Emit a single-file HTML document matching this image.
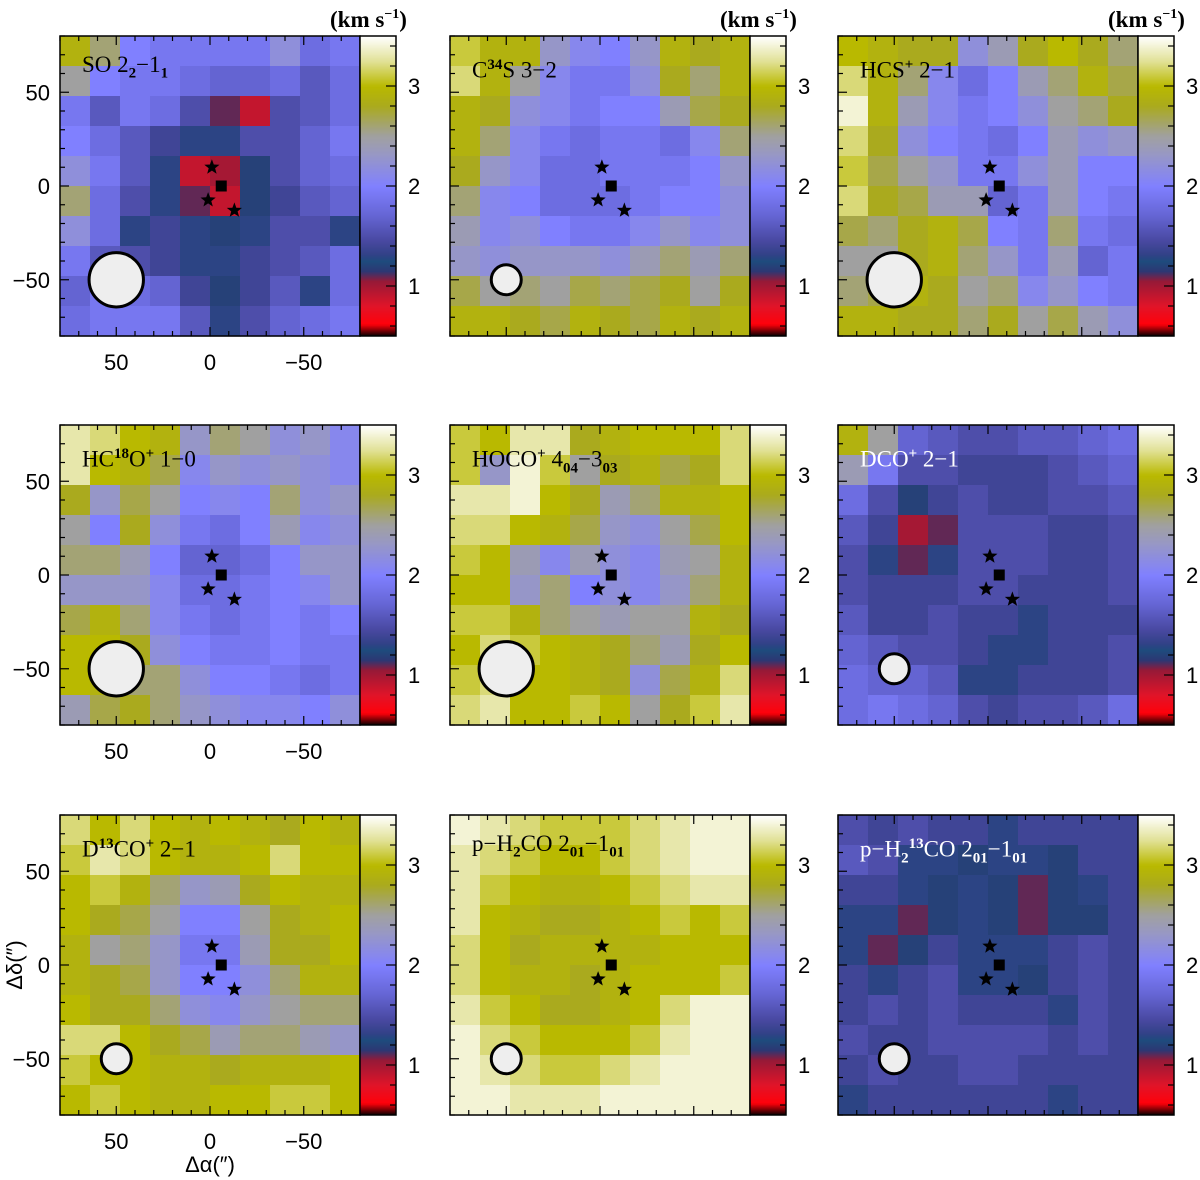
<!DOCTYPE html>
<html><head><meta charset="utf-8">
<style>
html,body{margin:0;padding:0;background:#fff;}
svg{display:block;}
text{font-family:"Liberation Sans",sans-serif;}
.serif{font-family:"Liberation Serif",serif;}
</style></head>
<body>
<svg id="fig" width="1200" height="1180" viewBox="0 0 1200 1180" xmlns="http://www.w3.org/2000/svg"></svg>
<script>
// ---- data (10x10 coarse velocity-width maps, km/s), rows top->bottom, cols left->right ----
const soValues = [
[2.9,2.6,2.0,1.9,1.9,1.9,1.9,2.2,1.8,1.9],
[2.5,2.0,1.9,1.9,1.8,1.7,1.7,1.8,1.6,1.8],
[1.9,1.6,1.9,1.8,1.5,1.1,0.9,1.5,1.6,1.8],
[2.0,1.8,1.6,1.4,1.3,1.3,1.5,1.5,1.7,1.9],
[2.2,1.9,1.6,1.3,0.9,1.0,1.2,1.5,1.7,1.8],
[2.6,1.8,1.5,1.3,1.1,0.9,1.2,1.4,1.6,1.7],
[2.2,1.8,1.3,1.4,1.3,1.2,1.3,1.5,1.5,1.3],
[1.9,1.6,1.5,1.4,1.3,1.3,1.4,1.5,1.6,1.8],
[1.7,1.9,1.8,1.7,1.4,1.2,1.4,1.6,1.3,1.8],
[1.8,1.9,1.9,1.9,1.6,1.3,1.5,1.7,1.8,1.9]];
const c34sValues = [
[3.1,2.9,2.9,2.3,2.1,2.0,2.3,2.9,2.8,2.9],
[3.2,2.9,2.5,2.1,1.9,1.9,2.2,2.8,2.6,2.9],
[2.9,2.8,2.2,2.1,1.9,2.0,2.0,2.4,2.7,2.8],
[2.9,2.6,2.1,1.9,1.8,1.9,1.9,1.8,2.1,2.6],
[2.8,2.3,2.1,1.8,1.8,1.9,1.9,1.9,2.0,2.3],
[2.6,2.1,2.0,1.8,1.8,1.8,1.9,2.0,2.0,2.2],
[2.4,2.1,2.2,2.0,1.9,1.9,2.1,2.3,2.1,2.2],
[2.3,2.2,2.3,2.3,2.3,2.2,2.4,2.6,2.4,2.6],
[2.7,2.5,2.6,2.5,2.7,2.6,2.7,2.8,2.5,2.8],
[2.9,2.9,2.8,2.7,2.9,2.8,2.7,2.9,2.8,2.9]];
const hcsValues = [
[3.0,2.9,2.8,2.8,2.2,2.4,2.8,3.0,2.8,2.6],
[3.2,2.9,2.6,2.1,1.8,2.0,2.4,2.6,2.9,2.7],
[3.4,2.9,2.4,2.1,1.9,2.0,2.2,2.5,2.6,2.8],
[3.2,2.8,2.2,2.0,1.9,1.8,2.0,2.4,2.2,2.3],
[3.1,2.7,2.5,2.3,1.9,1.9,2.2,2.4,2.0,2.0],
[3.2,2.8,2.7,2.4,2.4,1.7,1.9,2.4,2.0,1.9],
[2.7,2.6,2.8,2.9,2.7,2.0,1.9,2.6,1.9,1.8],
[2.5,2.5,2.8,2.9,2.6,2.3,1.9,2.4,1.7,1.9],
[2.6,2.7,2.9,2.8,2.5,2.6,2.1,2.3,2.0,1.9],
[2.9,2.9,2.8,2.8,2.6,2.8,2.5,2.7,2.4,2.2]];
const hc18oValues = [
[3.3,3.2,3.0,2.9,2.3,2.6,2.5,2.2,2.3,2.1],
[3.3,3.0,2.9,2.7,2.1,2.3,2.2,2.3,2.2,2.1],
[2.8,2.3,2.7,2.5,2.0,2.1,2.0,2.6,2.2,2.3],
[2.5,2.0,2.8,2.2,1.9,1.8,2.0,2.4,2.1,2.2],
[2.6,2.6,2.4,2.0,1.7,1.7,1.8,2.0,2.3,2.3],
[2.3,2.3,2.3,2.1,1.8,1.8,1.9,2.0,2.1,2.3],
[2.7,2.9,2.6,2.1,1.9,1.8,1.9,2.0,1.9,2.0],
[3.0,3.0,2.8,2.2,2.0,1.9,1.9,2.0,1.9,1.9],
[3.0,2.9,2.6,2.6,2.2,2.0,2.0,1.9,1.8,1.9],
[2.4,2.7,2.8,2.6,2.3,2.2,2.1,2.1,2.0,2.2]];
const hocoValues = [
[3.1,3.0,3.3,3.3,2.8,2.9,3.0,3.0,3.0,3.2],
[3.1,2.3,3.4,3.1,2.5,2.8,2.9,2.7,2.8,3.2],
[3.3,3.3,3.4,3.0,2.8,2.4,2.6,2.9,2.9,3.0],
[3.2,3.2,3.0,2.9,2.7,2.3,2.2,2.5,2.7,3.0],
[3.1,3.0,2.4,2.1,2.4,2.2,2.1,2.4,2.5,2.9],
[3.0,3.0,2.3,2.6,2.0,2.2,2.1,2.3,2.6,2.9],
[3.1,3.1,2.9,2.6,2.5,2.4,2.5,2.5,2.9,2.8],
[3.0,3.2,3.1,3.0,2.9,2.8,2.6,2.4,2.8,3.0],
[3.1,3.2,3.0,3.0,2.9,2.8,2.2,2.7,2.9,3.2],
[3.2,3.3,3.0,3.0,3.1,3.0,2.5,2.8,3.1,3.3]];
const dcoValues = [
[2.9,2.5,1.7,1.6,1.5,1.5,1.6,1.6,1.7,1.8],
[2.4,1.9,1.5,1.5,1.4,1.4,1.4,1.5,1.6,1.7],
[1.8,1.5,1.2,1.4,1.5,1.4,1.4,1.5,1.5,1.6],
[1.6,1.4,1.0,1.1,1.5,1.5,1.5,1.4,1.4,1.5],
[1.5,1.3,1.1,1.3,1.5,1.5,1.5,1.4,1.4,1.5],
[1.5,1.4,1.4,1.4,1.5,1.5,1.4,1.4,1.4,1.5],
[1.6,1.4,1.4,1.5,1.4,1.4,1.3,1.4,1.4,1.4],
[1.7,1.6,1.5,1.5,1.4,1.3,1.3,1.4,1.4,1.5],
[1.8,1.7,1.7,1.6,1.3,1.3,1.4,1.4,1.4,1.5],
[1.8,1.9,1.8,1.7,1.5,1.4,1.5,1.5,1.6,1.8]];
const d13coValues = [
[3.2,3.0,3.2,3.0,2.9,3.0,2.9,2.8,3.0,2.9],
[3.1,3.3,3.2,3.0,2.9,2.9,3.0,3.2,3.0,3.0],
[3.0,3.1,2.9,2.6,2.3,2.4,2.8,3.0,2.9,2.9],
[3.0,2.8,2.7,2.5,2.0,2.0,2.5,2.8,2.9,3.0],
[2.9,2.5,2.6,2.3,1.9,1.9,2.4,2.8,2.8,3.0],
[2.9,2.8,2.7,2.3,2.0,2.0,2.2,2.6,2.9,2.9],
[3.0,2.8,2.8,2.6,2.2,2.1,2.3,2.5,2.6,2.6],
[3.2,3.2,3.0,2.8,2.7,2.4,2.6,2.6,2.4,2.3],
[3.1,3.0,3.0,2.9,2.9,2.8,2.9,2.9,2.9,3.0],
[3.0,3.1,3.0,2.9,2.9,3.0,3.0,3.1,3.1,3.0]];
const h2coValues = [
[3.4,3.3,3.2,3.1,3.1,3.1,3.2,3.3,3.4,3.4],
[3.3,3.2,3.1,3.0,3.0,3.1,3.2,3.3,3.4,3.4],
[3.3,3.1,3.0,2.9,2.9,3.0,3.1,3.2,3.3,3.3],
[3.3,3.0,2.9,2.8,2.8,2.9,3.0,3.1,3.0,3.1],
[3.2,3.0,2.8,2.9,2.9,2.9,2.9,3.0,3.0,3.0],
[3.2,3.0,2.9,2.9,2.8,2.9,3.0,3.0,3.0,3.1],
[3.3,3.1,3.0,2.8,2.8,2.9,3.0,3.2,3.4,3.4],
[3.4,3.2,3.1,3.0,3.0,3.0,3.1,3.3,3.4,3.4],
[3.4,3.3,3.2,3.1,3.1,3.2,3.3,3.4,3.4,3.4],
[3.4,3.4,3.3,3.3,3.3,3.4,3.4,3.4,3.4,3.4]];
const h213coValues = [
[1.5,1.4,1.5,1.4,1.4,1.3,1.4,1.4,1.4,1.4],
[1.6,1.5,1.3,1.3,1.2,1.3,1.3,1.2,1.4,1.4],
[1.4,1.4,1.3,1.2,1.3,1.2,1.1,1.2,1.3,1.4],
[1.3,1.3,1.1,1.2,1.3,1.2,1.1,1.2,1.2,1.4],
[1.3,1.1,1.2,1.4,1.3,1.3,1.3,1.4,1.5,1.4],
[1.4,1.3,1.4,1.5,1.3,1.3,1.2,1.4,1.5,1.4],
[1.4,1.5,1.4,1.5,1.4,1.4,1.4,1.3,1.5,1.4],
[1.5,1.4,1.4,1.5,1.5,1.5,1.5,1.4,1.5,1.4],
[1.4,1.5,1.4,1.4,1.5,1.5,1.4,1.4,1.4,1.4],
[1.3,1.4,1.4,1.4,1.4,1.4,1.4,1.3,1.4,1.4]];
const beamRadii = [14.5, 8, 14.5, 14.5, 14.5, 8, 8, 8, 8]; // arcsec
const starOffsetsX = [-1, 1, -13];
const starOffsetsY = [10, -7.5, -13];
const squareOffsetX = -6, squareOffsetY = 0;
const axisTickLabels = [50, 0, -50];
const cbarTickLabels = [1, 2, 3];

// ---- layout ----
const NS = "http://www.w3.org/2000/svg";
const svg = document.getElementById('fig');
const colX = [60, 450, 838], rowY = [36, 425, 815], W = 300;
const panelDefs = [
 {vals: soValues, name: 'so', label: 'SO 2<sub>2</sub>−1<sub>1</sub>', white:false},
 {vals: c34sValues, name: 'c34s', label: 'C<sup>34</sup>S 3−2', white:false},
 {vals: hcsValues, name: 'hcs', label: 'HCS<sup>+</sup> 2−1', white:false},
 {vals: hc18oValues, name: 'hc18o', label: 'HC<sup>18</sup>O<sup>+</sup> 1−0', white:false},
 {vals: hocoValues, name: 'hoco', label: 'HOCO<sup>+</sup> 4<sub>04</sub>−3<sub>03</sub>', white:false},
 {vals: dcoValues, name: 'dco', label: 'DCO<sup>+</sup> 2−1', white:true},
 {vals: d13coValues, name: 'd13co', label: 'D<sup>13</sup>CO<sup>+</sup> 2−1', white:false},
 {vals: h2coValues, name: 'h2co', label: 'p−H<sub>2</sub>CO 2<sub>01</sub>−1<sub>01</sub>', white:false},
 {vals: h213coValues, name: 'h213co', label: 'p−H<sub>2</sub><sup>13</sup>CO 2<sub>01</sub>−1<sub>01</sub>', white:true}
];
const stops = [[0.5,[0,0,0]],[0.62,[255,0,10]],[0.8,[225,20,40]],[1.05,[150,25,55]],[1.15,[45,55,115]],[1.25,[30,75,125]],[1.32,[50,65,135]],[1.45,[72,72,160]],[1.7,[100,100,210]],[2.0,[128,128,255]],[2.3,[150,150,200]],[2.5,[160,160,160]],[2.8,[170,170,30]],[3.0,[185,185,0]],[3.25,[225,225,150]],[3.5,[255,255,255]]];
function cmap(v){
  if(v<=stops[0][0]) return 'rgb(0,0,0)';
  for(let i=1;i<stops.length;i++){
    if(v<=stops[i][0]){
      const a=stops[i-1],b=stops[i],t=(v-a[0])/(b[0]-a[0]);
      const c=a[1].map((x,k)=>Math.round(x+(b[1][k]-x)*t));
      return `rgb(${c[0]},${c[1]},${c[2]})`;
    }
  }
  return 'rgb(255,255,255)';
}
function mk(tag, attrs, parent){
  const e=document.createElementNS(NS,tag);
  for(const k in attrs) e.setAttribute(k,attrs[k]);
  (parent||svg).appendChild(e);
  return e;
}
// axis functions: arcsec -> px (RA increases to the left)
function xScale(px0, a){ return px0 + (80 - a) * W / 160; }
function yScale(py0, d){ return py0 + (80 - d) * W / 160; }
function vScale(py0, v){ return py0 + (3.5 - v) * W / 3.0; }

function starPath(cx,cy,r){
  let p='';
  for(let i=0;i<10;i++){
    const rr = i%2===0 ? r : r*0.42;
    const ang = -Math.PI/2 + i*Math.PI/5;
    p += (i===0?'M':'L') + (cx+rr*Math.cos(ang)).toFixed(1)+','+(cy+rr*Math.sin(ang)).toFixed(1);
  }
  return p+'Z';
}

panelDefs.forEach((pd, idx)=>{
  const col = idx%3, row = Math.floor(idx/3);
  const x0 = colX[col], y0 = rowY[row];
  const g = mk('g',{});
  
  
  const n = pd.vals.length, cell = 160/n;
  pd.vals.forEach((rowVals, r)=>{
    rowVals.forEach((v, c)=>{
      const aL = 80 - c*cell, dT = 80 - r*cell;
      const px = xScale(x0, aL), py = yScale(y0, dT);
      const rect = mk('rect',{x:px.toFixed(2), y:py.toFixed(2), width:(W/n+0.6).toFixed(2), height:(W/n+0.6).toFixed(2), fill:cmap(v)}, g);
      
      
    });
  });
  const beam = mk('circle',{cx:xScale(x0,50), cy:yScale(y0,-50), r:beamRadii[idx]*W/160, fill:'#eeeeee', stroke:'#000', 'stroke-width':3}, g);
  
  
  starOffsetsX.forEach((sx,i)=>{
    const s = mk('path',{d:starPath(xScale(x0,sx), yScale(y0,starOffsetsY[i]), 8), fill:'#000'}, g);
    
    
  });
  const sq = mk('rect',{x:xScale(x0,squareOffsetX)-5.5, y:yScale(y0,squareOffsetY)-5.5, width:11, height:11, fill:'#000'}, g);
  
  
  const fr = mk('rect',{x:x0, y:y0, width:W, height:W, fill:'none', stroke:'#000', 'stroke-width':1.5}, g);
  
  
  for(let t=-80;t<=80;t+=10){
    const len = (t%50===0)?9:5;
    const tx = xScale(x0,t), ty = yScale(y0,t);
    mk('line',{x1:tx,y1:y0+W,x2:tx,y2:y0+W-len,stroke:'#000','stroke-width':1.2},g);
    mk('line',{x1:tx,y1:y0,x2:tx,y2:y0+len,stroke:'#000','stroke-width':1.2},g);
    mk('line',{x1:x0,y1:ty,x2:x0+len,y2:ty,stroke:'#000','stroke-width':1.2},g);
  }
  const fo = mk('foreignObject',{x:x0+22, y:y0+16, width:280, height:40}, g);
  
  
  const div = document.createElement('div');
  div.style.cssText = 'font-family:"Liberation Serif",serif;font-size:23px;line-height:26px;white-space:nowrap;color:'+(pd.white?'#fff':'#000');
  div.innerHTML = pd.label.replace(/<sub>/g,'<sub style="font-size:15px;font-weight:bold">').replace(/<sup>/g,'<sup style="font-size:15px;font-weight:bold">');
  fo.appendChild(div);
  const cbx = x0+W, cbw = 36;
  const cb = mk('g',{});
  
  
  for(let v=0.5; v<3.5; v+=0.02){
    mk('rect',{x:cbx, y:vScale(y0,v+0.02), width:cbw, height:W/150+0.5, fill:cmap(v+0.01)}, cb);
  }
  mk('rect',{x:cbx, y:y0, width:cbw, height:W, fill:'none', stroke:'#000','stroke-width':1.5}, cb);
  for(let v=0.6; v<3.45; v+=0.2){
    const ty = vScale(y0, v);
    const major = Math.abs(v-Math.round(v))<0.01;
    mk('line',{x1:cbx+cbw, y1:ty, x2:cbx+cbw-(major?10:6), y2:ty, stroke:'#000','stroke-width':1.2}, cb);
  }
  cbarTickLabels.forEach(v=>{
    const t = mk('text',{x:cbx+cbw+12, y:vScale(y0,v)+8, 'font-size':22}, cb);
    t.textContent = v;
    
    
  });
  if(row===0){
    const u = mk('text',{x:cbx-30, y:y0-9, 'font-size':23, class:'serif', 'font-weight':'bold'}, cb);
    
    
    u.innerHTML = '(km s<tspan dy="-9" font-size="14">−1</tspan><tspan dy="9">)</tspan>';
  }
  if(col===0){
    axisTickLabels.forEach(v=>{
      const ty = mk('text',{x:x0-10, y:yScale(y0,v)+8, 'font-size':22, 'text-anchor':'end'}, g);
      ty.textContent = v===0?'0':(v<0?'−'+Math.abs(v):v);
      
      
      const tx = mk('text',{x:xScale(x0,v), y:y0+W+34, 'font-size':22, 'text-anchor':'middle'}, g);
      tx.textContent = v===0?'0':(v<0?'−'+Math.abs(v):v);
      
      
    });
  }
});
const xt = mk('text',{x:210, y:1172, 'font-size':22, 'text-anchor':'middle'});
xt.textContent = 'Δα(″)';


const yt = mk('text',{x:0, y:0, 'font-size':22, 'text-anchor':'middle', transform:'translate(22,965) rotate(-90)'});
yt.textContent = 'Δδ(″)';


</script>
</body></html>
